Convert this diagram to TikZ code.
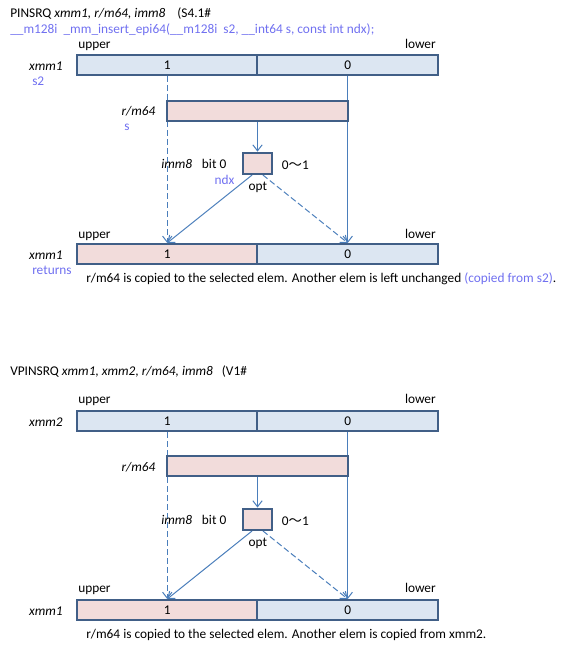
\documentclass[tikz,border=0pt]{standalone}
\usepackage{fontspec}
\setmainfont{Carlito}
\newfontfamily\cjk{Noto Sans CJK JP}
\usetikzlibrary{arrows.meta}
\definecolor{bord}{RGB}{65,95,135}
\definecolor{cblue}{RGB}{220,230,242}
\definecolor{cpink}{RGB}{242,220,219}
\definecolor{lnc}{RGB}{74,126,187}
\definecolor{tblue}{RGB}{112,112,240}
\pgfdeclarelayer{bg}
\pgfsetlayers{bg,main}
\tikzset{
  cell/.style={draw=bord, line width=1.5pt, minimum width=135.4pt, minimum height=15pt, inner sep=0pt, font=\normalsize},
  bcell/.style={cell, fill=cblue},
  pcell/.style={cell, fill=cpink},
  smallbox/.style={draw=bord, line width=1.5pt, fill=cpink, minimum width=22pt, minimum height=16pt, inner sep=0pt},
  lt/.style={inner sep=0pt, anchor=base west},
  rt/.style={inner sep=0pt, anchor=base east},
  conn/.style={draw=lnc, line width=0.75pt, -{Straight Barb[length=4.5pt,width=7pt]}},
  dsh/.style={dash pattern=on 4.5pt off 2.25pt}
}
\begin{document}
\begin{tikzpicture}[x=0.75pt,y=-0.75pt]
\useasboundingbox (0,0) rectangle (577,649);

% ---------- top section ----------
\node[lt] (t1) at (10,17.3) {PINSRQ \textit{xmm1, r/m64, imm8}\ \ \ \ (S4.1\#};
\node[lt, text=tblue] (t2) at (10,33.3) {\_\_m128i\ \ \_mm\_insert\_epi64(\_\_m128i\ \ s2, \_\_int64 s, const int ndx);};

\node[lt] (up1) at (78,48.7) {upper};
\node[rt] (lo1) at (436,48.7) {lower};
\node[bcell] (aL) at (167.25,65) {1};
\node[bcell] (aR) at (347.75,65) {0};
\node[rt] (xa) at (63,70.7) {\textit{xmm1}};
\node[lt, text=tblue] (s2) at (32,85.7) {s2};

\node[pcell] (rm1) at (257.5,110.7) {};
\node[rt] (rml1) at (155.7,116) {\textit{r/m64}};
\node[lt, text=tblue] (sl) at (124,130.5) {s};

\node[smallbox] (sm1) at (257.5,163.3) {};
\node[lt] (im1) at (161,169) {\textit{imm8}};
\node[lt] (bt1) at (201.7,169) {bit 0};
\node[lt] (rg1) at (281.7,170) {0{\cjk 〜}1};
\node[lt, text=tblue] (ndx) at (214.3,184.7) {ndx};
\node[lt] (op1) at (248.3,190.8) {opt};

\node[lt] (up2) at (78,238) {upper};
\node[rt] (lo2) at (436,238) {lower};
\node[pcell] (bL) at (167.25,253.9) {1};
\node[bcell] (bR) at (347.75,253.9) {0};
\node[rt] (xb) at (63,259) {\textit{xmm1}};
\node[lt, text=tblue] (ret) at (32,274.7) {returns};
\node[lt] (cap1) at (86,282) {r/m64 is copied to the selected elem. Another elem is left unchanged \textcolor{tblue}{(copied from s2)}.};

\begin{pgfonlayer}{bg}
\draw[conn,dsh] (aL.south) -- (bL.north);
\draw[conn] (aR.south) -- (bR.north);
\draw[conn] (rm1.south) -- (sm1.north);
\draw[conn] ([xshift=-4pt]sm1.south) -- (bL.north);
\draw[conn,dsh] ([xshift=4pt]sm1.south) -- (bR.north);
\end{pgfonlayer}

% ---------- bottom section ----------
\node[lt] (t3) at (10,375) {VPINSRQ \textit{xmm1, xmm2, r/m64, imm8}\ \ \ (V1\#};

\node[lt] (up3) at (78,403.3) {upper};
\node[rt] (lo3) at (436,403.3) {lower};
\node[bcell] (cL) at (167.25,421) {1};
\node[bcell] (cR) at (347.75,421) {0};
\node[rt] (xc) at (63,426) {\textit{xmm2}};

\node[pcell] (rm2) at (257.5,465.5) {};
\node[rt] (rml2) at (155.7,471.7) {\textit{r/m64}};

\node[smallbox] (sm2) at (257.5,519.2) {};
\node[lt] (im2) at (161,524) {\textit{imm8}};
\node[lt] (bt2) at (201.7,524) {bit 0};
\node[lt] (rg2) at (281.7,525) {0{\cjk 〜}1};
\node[lt] (op2) at (248.3,546.5) {opt};

\node[lt] (up4) at (78,592.3) {upper};
\node[rt] (lo4) at (436,592.3) {lower};
\node[pcell] (dL) at (167.25,610) {1};
\node[bcell] (dR) at (347.75,610) {0};
\node[rt] (xd) at (63,615.7) {\textit{xmm1}};
\node[lt] (cap2) at (86,638) {r/m64 is copied to the selected elem. Another elem is copied from xmm2.};

\begin{pgfonlayer}{bg}
\draw[conn,dsh] (cL.south) -- (dL.north);
\draw[conn] (cR.south) -- (dR.north);
\draw[conn] (rm2.south) -- (sm2.north);
\draw[conn] ([xshift=-4pt]sm2.south) -- (dL.north);
\draw[conn,dsh] ([xshift=4pt]sm2.south) -- (dR.north);
\end{pgfonlayer}
\end{tikzpicture}
\end{document}
